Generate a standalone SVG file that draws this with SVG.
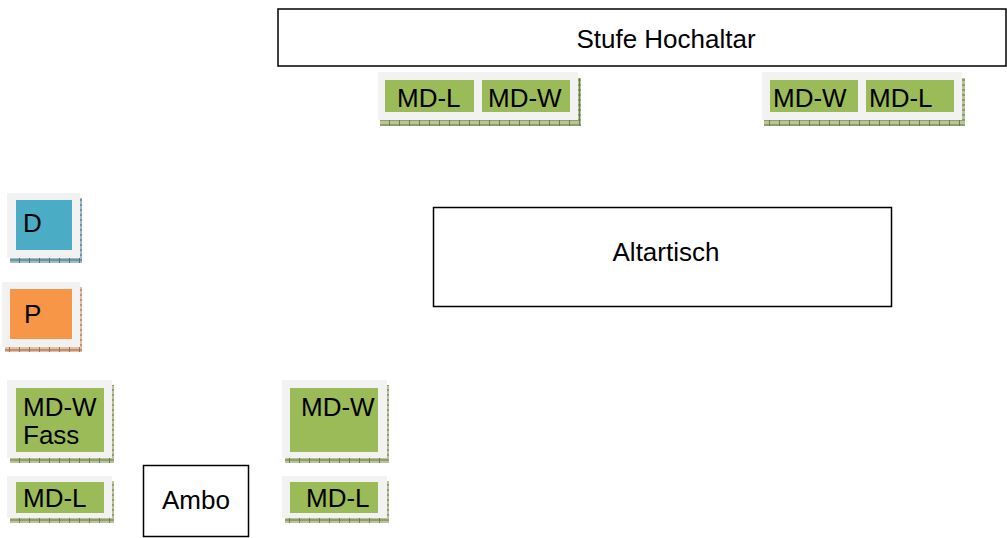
<svg xmlns="http://www.w3.org/2000/svg" width="1007" height="538" viewBox="0 0 1007 538">
<defs>
<pattern id="shG" width="10" height="5" patternUnits="userSpaceOnUse">
<rect width="10" height="5" fill="#b9c49a"/>
<rect y="0" width="10" height="1" fill="#8f9e6a"/>
<rect y="4" width="10" height="1" fill="#8f9e6a"/>
<rect x="9" width="1" height="5" fill="#6f7f4a"/>
</pattern>
<pattern id="shB" width="10" height="5" patternUnits="userSpaceOnUse">
<rect width="10" height="5" fill="#9fbcc6"/>
<rect y="0" width="10" height="1" fill="#6f93a0"/>
<rect y="4" width="10" height="1" fill="#6f93a0"/>
<rect x="9" width="1" height="5" fill="#4f7380"/>
</pattern>
<pattern id="shO" width="10" height="5" patternUnits="userSpaceOnUse">
<rect width="10" height="5" fill="#e2c2a2"/>
<rect y="0" width="10" height="1" fill="#c09070"/>
<rect y="4" width="10" height="1" fill="#c09070"/>
<rect x="9" width="1" height="5" fill="#a07050"/>
</pattern>
</defs>
<style>
.t{font-family:"Liberation Sans",Arial,sans-serif;font-size:26px;fill:#000}
.frame{fill:#fff;stroke:#000;stroke-width:1.5}
.outer{fill:#f2f2f2}
.g{fill:#9bbb59}
.b{fill:#4bacc6}
.o{fill:#f79646}
</style>
<g id="stufe">
<rect class="frame" x="278" y="9" width="728" height="57"/>
<text class="t" x="666" y="48" text-anchor="middle">Stufe Hochaltar</text>
</g>
<g id="altartisch">
<rect class="frame" x="433.5" y="207.5" width="458" height="99"/>
<text class="t" x="666" y="261" text-anchor="middle">Altartisch</text>
</g>
<g id="ambo">
<rect class="frame" x="143.5" y="465.5" width="105" height="71"/>
<text class="t" x="196" y="509" text-anchor="middle">Ambo</text>
</g>
<g id="md-top-left">
<rect x="380" y="120" width="200" height="6" fill="url(#shG)"/>
<rect x="578" y="78" width="3" height="48" fill="url(#shG)"/>
<rect class="outer" x="378" y="72" width="200" height="48"/>
<rect class="g" x="385" y="80" width="89" height="32"/>
<rect class="g" x="482" y="80" width="88" height="32"/>
<text class="t" x="397" y="107">MD-L</text>
<text class="t" x="488" y="107">MD-W</text>
</g>
<g id="md-top-right">
<rect x="764" y="120" width="200" height="6" fill="url(#shG)"/>
<rect x="962" y="78" width="3" height="48" fill="url(#shG)"/>
<rect class="outer" x="762" y="72" width="200" height="48"/>
<rect class="g" x="770" y="80" width="88" height="32"/>
<rect class="g" x="866" y="80" width="88" height="32"/>
<text class="t" x="773" y="107">MD-W</text>
<text class="t" x="869" y="107">MD-L</text>
</g>
<g id="d">
<rect x="10" y="258" width="72" height="5" fill="url(#shB)"/>
<rect x="80" y="198" width="2" height="65" fill="url(#shB)"/>
<rect class="outer" x="7" y="193" width="73" height="65"/>
<rect class="b" x="16" y="200" width="56" height="50"/>
<text class="t" x="23" y="232">D</text>
</g>
<g id="p">
<rect x="5" y="347" width="77" height="5" fill="url(#shO)"/>
<rect x="80" y="287" width="2" height="65" fill="url(#shO)"/>
<rect class="outer" x="2" y="282" width="78" height="65"/>
<rect class="o" x="10" y="289" width="62" height="50"/>
<text class="t" x="24" y="323">P</text>
</g>
<g id="md-w-fass">
<rect x="10" y="458" width="104" height="5" fill="url(#shG)"/>
<rect x="112" y="385" width="2" height="78" fill="url(#shG)"/>
<rect class="outer" x="7" y="380" width="105" height="78"/>
<rect class="g" x="16" y="388" width="88" height="64"/>
<text class="t" x="23" y="416">MD-W</text>
<text class="t" x="23" y="444">Fass</text>
</g>
<g id="md-l-left">
<rect x="10" y="518" width="104" height="5" fill="url(#shG)"/>
<rect x="112" y="481" width="2" height="42" fill="url(#shG)"/>
<rect class="outer" x="7" y="476" width="105" height="42"/>
<rect class="g" x="16" y="482" width="88" height="31"/>
<text class="t" x="23" y="507">MD-L</text>
</g>
<g id="md-w-right">
<rect x="285" y="458" width="104" height="5" fill="url(#shG)"/>
<rect x="387" y="385" width="2" height="78" fill="url(#shG)"/>
<rect class="outer" x="282" y="380" width="105" height="78"/>
<rect class="g" x="290" y="388" width="88" height="64"/>
<text class="t" x="301" y="416">MD-W</text>
</g>
<g id="md-l-right">
<rect x="285" y="518" width="104" height="5" fill="url(#shG)"/>
<rect x="387" y="481" width="2" height="42" fill="url(#shG)"/>
<rect class="outer" x="282" y="476" width="105" height="42"/>
<rect class="g" x="290" y="482" width="88" height="31"/>
<text class="t" x="306" y="507">MD-L</text>
</g>
<g id="connectors"/>
</svg>
